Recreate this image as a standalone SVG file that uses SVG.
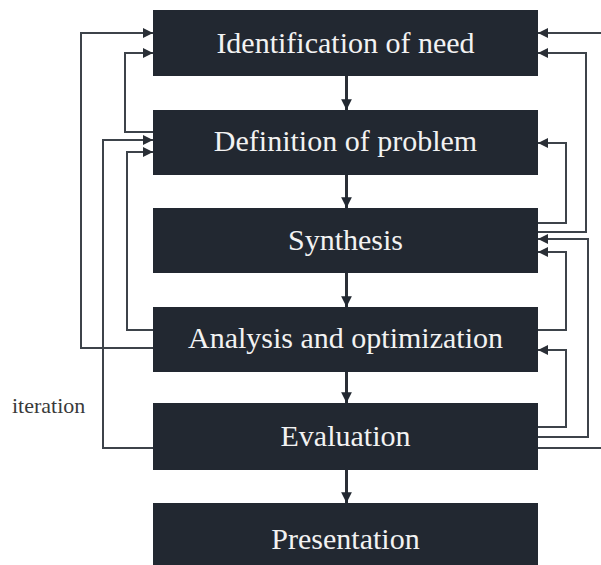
<svg xmlns="http://www.w3.org/2000/svg" width="601" height="565" viewBox="0 0 601 565">
<defs>
<style>
.box{fill:#222831;}
.lbl{fill:#f2f2f2;font-family:"Liberation Serif","DejaVu Serif",serif;font-size:30px;text-anchor:middle;}
.ln{fill:none;stroke:#3d434a;stroke-width:2;}
.dn{fill:none;stroke:#2a2f36;stroke-width:3;}
.side{fill:#3a3a3a;font-family:"Liberation Serif","DejaVu Serif",serif;font-size:22px;}
</style>
<marker id="ah" viewBox="0 0 10 10" refX="10" refY="5" markerWidth="5" markerHeight="5" orient="auto" markerUnits="strokeWidth">
<path d="M0,0 L10,5 L0,10 z" fill="#2a2f36"/>
</marker>
<marker id="ad" viewBox="0 0 10 10" refX="10" refY="5" markerWidth="3.6" markerHeight="3.6" orient="auto" markerUnits="strokeWidth">
<path d="M0,0 L10,5 L0,10 z" fill="#222831"/>
</marker>
</defs>
<rect width="601" height="565" fill="#ffffff"/>
<g id="connectors">
<path class="dn" d="M346.5,76 V110" marker-end="url(#ad)"/>
<path class="dn" d="M346.5,175 V208" marker-end="url(#ad)"/>
<path class="dn" d="M346.5,273 V307" marker-end="url(#ad)"/>
<path class="dn" d="M346.5,372 V403" marker-end="url(#ad)"/>
<path class="dn" d="M346.5,470 V503" marker-end="url(#ad)"/>
<path class="ln" d="M153,348 H81 V33 H153" marker-end="url(#ah)"/>
<path class="ln" d="M153,132 H125 V53 H153" marker-end="url(#ah)"/>
<path class="ln" d="M153,448 H103 V140 H153" marker-end="url(#ah)"/>
<path class="ln" d="M153,330 H127 V152 H153" marker-end="url(#ah)"/>
<path class="ln" d="M601,33 H538" marker-end="url(#ah)"/>
<path class="ln" d="M538,448 H601"/>
<path class="ln" d="M538,232 H586 V53 H538" marker-end="url(#ah)"/>
<path class="ln" d="M538,223 H566 V143 H538" marker-end="url(#ah)"/>
<path class="ln" d="M538,437 H588 V239 H538" marker-end="url(#ah)"/>
<path class="ln" d="M538,330 H566 V252 H538" marker-end="url(#ah)"/>
<path class="ln" d="M538,427 H566 V350 H538" marker-end="url(#ah)"/>
</g>
<g id="n1"><rect class="box" x="153" y="10" width="385" height="66"/><text class="lbl" x="345.5" y="53">Identification of need</text></g>
<g id="n2"><rect class="box" x="153" y="110" width="385" height="65"/><text class="lbl" x="345.5" y="151">Definition of problem</text></g>
<g id="n3"><rect class="box" x="153" y="208" width="385" height="65"/><text class="lbl" x="345.5" y="250">Synthesis</text></g>
<g id="n4"><rect class="box" x="153" y="307" width="385" height="65"/><text class="lbl" x="345.5" y="348">Analysis and optimization</text></g>
<g id="n5"><rect class="box" x="153" y="403" width="385" height="67"/><text class="lbl" x="345.5" y="446">Evaluation</text></g>
<g id="n6"><rect class="box" x="153" y="503" width="385" height="62"/><text class="lbl" x="345.5" y="549">Presentation</text></g>
<text class="side" x="12" y="413">iteration</text>
</svg>
